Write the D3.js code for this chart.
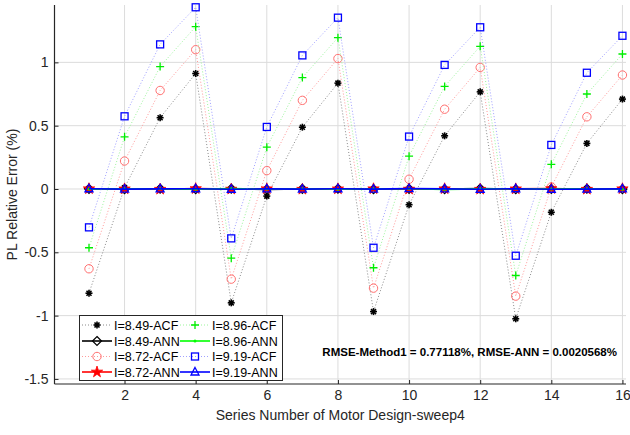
<!DOCTYPE html>
<html><head><meta charset="utf-8">
<script src="https://cdn.jsdelivr.net/npm/d3@7"></script>
<style>body{margin:0;background:#fff}svg{display:block}text{font-family:"Liberation Sans",Arial,sans-serif}</style>
</head><body><svg id="c" width="630" height="435"></svg>
<script>
// ---- data ----
const seriesNumber = [1,2,3,4,5,6,7,8,9,10,11,12,13,14,15,16];
const acf849 = [-0.823,0.01,0.563,0.912,-0.899,-0.056,0.488,0.836,-0.968,-0.124,0.42,0.767,-1.025,-0.184,0.36,0.71];
const acf872 = [-0.63,0.221,0.778,1.10,-0.712,0.145,0.70,1.03,-0.783,0.077,0.63,0.96,-0.846,0.016,0.57,0.90];
const acf896 = [-0.464,0.412,0.967,1.282,-0.546,0.33,0.88,1.195,-0.622,0.259,0.81,1.127,-0.683,0.195,0.75,1.066];
const acf919 = [-0.303,0.574,1.142,1.435,-0.39,0.49,1.055,1.353,-0.464,0.414,0.98,1.277,-0.527,0.348,0.918,1.21];
const ann849 = [0.001,-0.002,0.002,-0.001,0.002,-0.003,0.001,0.002,-0.002,0.001,-0.001,0.003,-0.002,0.001,0.002,-0.001];
const ann872 = [0.002,0.001,-0.002,0.003,-0.001,0.002,-0.002,0.001,0.002,-0.001,0.002,-0.002,0.001,0.003,-0.002,0.002];
const ann896 = [-0.001,0.002,0.001,-0.002,0.003,-0.001,0.002,-0.002,0.001,0.002,-0.003,0.001,0.002,-0.001,0.001,-0.002];
const ann919 = [0.002,-0.001,0.001,0.002,-0.002,0.001,-0.001,0.002,-0.001,0.003,0.001,-0.002,0.002,-0.002,-0.001,0.001];
const xTicks = [2,4,6,8,10,12,14,16];
const yTicks = [-1.5,-1,-0.5,0,0.5,1];
const labels = ["I=8.49-ACF","I=8.49-ANN","I=8.72-ACF","I=8.72-ANN","I=8.96-ACF","I=8.96-ANN","I=9.19-ACF","I=9.19-ANN"];
const annotation = "RMSE-Method1 = 0.77118%, RMSE-ANN = 0.0020568%";
const xTitle = "Series Number of Motor Design-sweep4";
const yTitle = "PL Relative Error (%)";

// ---- chart ----
const svg = d3.select("#c");
const L=54.5, R=626, T=5, B=384;
const x = d3.scaleLinear().domain([0.03,16.1]).range([L,R]);
const y = d3.scaleLinear().domain([-1.54,1.453]).range([B,T]);
const txt = "#262626";

// grid
const g = svg.append("g");
g.selectAll(".vg").data(xTicks).enter().append("line")
 .attr("x1",d=>x(d)).attr("x2",d=>x(d)).attr("y1",T).attr("y2",B)
 .attr("stroke","#dcdcdc").attr("stroke-width",1);
g.selectAll(".hg").data(yTicks).enter().append("line")
 .attr("x1",L).attr("x2",R).attr("y1",d=>y(d)).attr("y2",d=>y(d))
 .attr("stroke","#dcdcdc").attr("stroke-width",1);

// axes
const xAxis = d3.axisBottom(x).tickValues(xTicks).tickSizeInner(-4).tickSizeOuter(0).tickPadding(6).tickFormat(d3.format("d"));
const yAxis = d3.axisLeft(y).tickValues(yTicks).tickSizeInner(-4).tickSizeOuter(0).tickPadding(6).tickFormat(d=>String(d));
const gx = svg.append("g").attr("transform",`translate(0,${B})`).call(xAxis);
const gy = svg.append("g").attr("transform",`translate(${L},0)`).call(yAxis);
[gx,gy].forEach(a=>{
  a.select(".domain").attr("stroke",txt).attr("stroke-width",1.2);
  a.selectAll(".tick line").attr("stroke",txt);
  a.selectAll("text").attr("fill",txt).attr("font-size","14px").attr("font-family","Liberation Sans, Arial, sans-serif");
});
gx.select(".domain").attr("d",`M${L},0H${R}`);
gy.select(".domain").attr("d",`M0,${T}V${B}`);

svg.append("text").attr("x",(L+R)/2).attr("y",420).attr("text-anchor","middle")
 .attr("font-size","14px").attr("fill",txt).text(xTitle);
svg.append("text").attr("transform",`translate(17,${(T+B)/2}) rotate(-90)`).attr("text-anchor","middle")
 .attr("font-size","14px").attr("fill",txt).text(yTitle);

// markers
function drawMarker(sel, type, color){
  if(type==="asterisk"){
    [[0,-3.5,0,3.5],[-3.5,0,3.5,0],[-2.5,-2.5,2.5,2.5],[-2.5,2.5,2.5,-2.5]].forEach(l=>
      sel.append("line").attr("x1",l[0]).attr("y1",l[1]).attr("x2",l[2]).attr("y2",l[3]).attr("stroke",color).attr("stroke-width",1.6));
    sel.append("circle").attr("r",1.8).attr("fill",color);
  } else if(type==="circle"){
    sel.append("circle").attr("r",4.2).attr("fill","none").attr("stroke",color).attr("stroke-width",1);
  } else if(type==="plus"){
    sel.append("path").attr("d","M-4,0H4M0,-4V4").attr("stroke",color).attr("stroke-width",1.3);
  } else if(type==="square"){
    sel.append("rect").attr("x",-3.5).attr("y",-3.5).attr("width",7).attr("height",7).attr("fill","none").attr("stroke",color).attr("stroke-width",1.3);
  } else if(type==="diamond"){
    sel.append("path").attr("d","M0,-4.5L4.5,0L0,4.5L-4.5,0Z").attr("fill","none").attr("stroke",color).attr("stroke-width",1.2);
  } else if(type==="star"){
    sel.append("path").attr("d",d3.symbol(d3.symbolStar,40)()).attr("fill",color).attr("stroke",color).attr("stroke-width",0.8);
  } else if(type==="dot"){
    sel.append("circle").attr("r",1.5).attr("fill",color);
  } else if(type==="triangle"){
    sel.append("path").attr("d","M0,-4.5L4,3L-4,3Z").attr("fill","none").attr("stroke",color).attr("stroke-width",1.3);
  }
}

const series = [
  {vals:acf849, line:"#8a8a8a", mcol:"#000000", marker:"asterisk", dotted:true},
  {vals:ann849, line:"#000000", mcol:"#000000", marker:"diamond", dotted:false},
  {vals:acf872, line:"#ff9a9a", mcol:"#ff7070", marker:"circle", dotted:true},
  {vals:ann872, line:"#ff0000", mcol:"#ff0000", marker:"star", dotted:false},
  {vals:acf896, line:"#9cf59c", mcol:"#00ee00", marker:"plus", dotted:true},
  {vals:ann896, line:"#00ff00", mcol:"#00ff00", marker:"dot", dotted:false},
  {vals:acf919, line:"#a0a0ff", mcol:"#0000ff", marker:"square", dotted:true},
  {vals:ann919, line:"#0000ff", mcol:"#0000ff", marker:"triangle", dotted:false}
];
series.forEach((s,i)=>{s.label=labels[i];});

const lineGen = d3.line().x(d=>x(d[0])).y(d=>y(d[1]));
const plot = svg.append("g");
series.forEach(s=>{
  const pts = seriesNumber.map((n,i)=>[n,s.vals[i]]);
  plot.append("path").attr("d",lineGen(pts)).attr("fill","none").attr("stroke",s.line)
    .attr("stroke-width",s.dotted?1:1.6).attr("stroke-dasharray",s.dotted?"1,2":null);
  pts.forEach(p=>{
    const m = plot.append("g").attr("transform",`translate(${x(p[0])},${y(p[1])})`);
    drawMarker(m, s.marker, s.mcol);
  });
});

// legend
const lg = svg.append("g");
lg.append("rect").attr("x",79.5).attr("y",315.5).attr("width",203).attr("height",65)
  .attr("fill","#fff").attr("stroke","#262626").attr("stroke-width",1);
const rowY = [325,341,356.5,372];
const colX = [82,180];
series.forEach((s,i)=>{
  const c = Math.floor(i/4), r = i%4;
  const x0 = colX[c], yy = rowY[r];
  lg.append("line").attr("x1",x0).attr("x2",x0+30).attr("y1",yy).attr("y2",yy)
    .attr("stroke",s.line).attr("stroke-width",s.dotted?1:1.6).attr("stroke-dasharray",s.dotted?"1,2":null);
  drawMarker(lg.append("g").attr("transform",`translate(${x0+15},${yy})`), s.marker, s.mcol);
  lg.append("text").attr("x",x0+32).attr("y",yy+4.5).attr("font-size","12.5px").attr("fill","#000").text(s.label);
});

svg.append("text").attr("x",617).attr("y",356).attr("text-anchor","end")
  .attr("font-size","11.5px").attr("font-weight","bold").attr("fill","#000").text(annotation);
</script></body></html>
